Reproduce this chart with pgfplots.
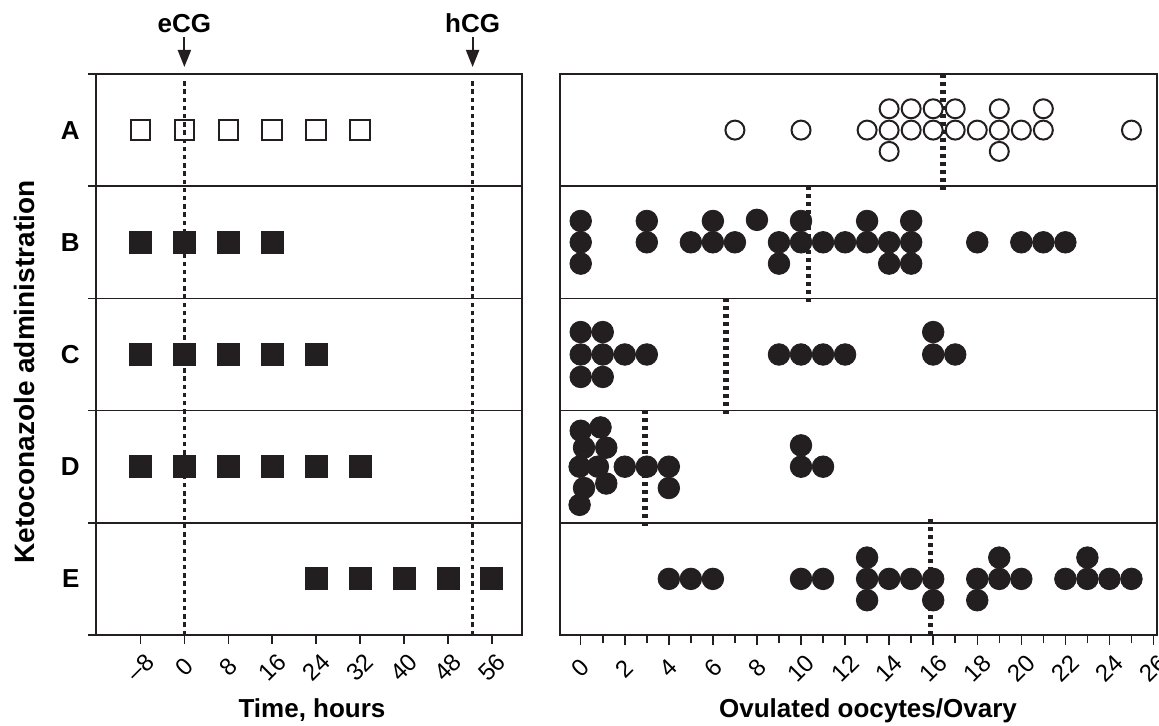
\documentclass[border=0pt]{standalone}
\usepackage{fontspec}
\setmainfont{Liberation Sans}
\usepackage{pgfplots}
\pgfplotsset{compat=1.18}
\usetikzlibrary{arrows.meta}
\definecolor{dotfill}{RGB}{35,31,32}
\newcommand{\lblfont}{\bfseries\fontsize{13}{15}\selectfont}
\newcommand{\tickfont}{\fontsize{12}{14}\selectfont}
\begin{document}
\begin{tikzpicture}[x=1pt,y=1pt]
\useasboundingbox (0,0) rectangle (579.5,363);
\pgfplotsset{
  panel/.style={
    anchor=south west, scale only axis, height=280.5pt,
    ymin=0.5, ymax=5.5, clip=false,
    axis line style={line width=0.9pt, draw=dotfill},
    tick align=outside, xtick pos=bottom, ytick pos=left,
    tick style={line width=0.75pt, draw=dotfill},
    /pgf/number format/assume math mode=true,
    xticklabel style={font=\tickfont, rotate=45, anchor=center},
    xticklabel shift=11.5pt,
  }
}
% ---------------- left panel ----------------
\begin{axis}[panel,
  at={(48pt,45.5pt)}, width=213pt,
  xmin=-16.1, xmax=61.5,
  xtick={-8,0,8,16,24,32,40,48,56},
  xticklabels={\textendash8,0,8,16,24,32,40,48,56},
  ytick={1,2,3,4,5}, yticklabels={E,D,C,B,A},
  yticklabel style={font=\lblfont},
  major y tick style={draw=none},
  minor ytick={0.5,1.5,2.5,3.5,4.5,5.5},
  yminorgrids, minor grid style={line width=0.75pt, draw=dotfill, solid},
  major tick length=4.7pt, minor tick length=3.8pt,
  xlabel={Time, hours},
  every axis x label/.style={at={(rel axis cs:0.5,0)}, anchor=base, yshift=-41.5pt, xshift=1.5pt, font=\lblfont},
  ylabel={Ketoconazole administration},
  every axis y label/.style={at={(rel axis cs:0,0.5)}, xshift=-36pt, yshift=-8.75pt, rotate=90, anchor=center, font=\bfseries\fontsize{14}{16}\selectfont},
]
% eCG / hCG lines
\addplot[dotfill, line width=1.6pt, dash pattern=on 2.2pt off 1.9pt] coordinates {(0,0.5) (0,5.45)};
\addplot[dotfill, line width=1.6pt, dash pattern=on 2.2pt off 1.9pt] coordinates {(52.5,0.5) (52.5,5.45)};
% A: open squares
\addplot[only marks, mark=square, mark size=4.9pt, mark options={line width=1pt, draw=dotfill, fill=none}]
  coordinates {(-8,5) (0,5) (8,5) (16,5) (24,5) (32,5)};
% B - E: filled squares
\addplot[only marks, mark=square*, mark size=5.5pt, mark options={draw=dotfill, fill=dotfill}]
  coordinates {(-8,4) (0,4) (8,4) (16,4)};
\addplot[only marks, mark=square*, mark size=5.5pt, mark options={draw=dotfill, fill=dotfill}]
  coordinates {(-8,3) (0,3) (8,3) (16,3) (24,3)};
\addplot[only marks, mark=square*, mark size=5.5pt, mark options={draw=dotfill, fill=dotfill}]
  coordinates {(-8,2) (0,2) (8,2) (16,2) (24,2) (32,2)};
\addplot[only marks, mark=square*, mark size=5.5pt, mark options={draw=dotfill, fill=dotfill}]
  coordinates {(24,1) (32,1) (40,1) (48,1) (56,1)};
% arrows
\draw[dotfill, line width=1pt, -{Triangle[width=6.5pt, length=8.5pt]}] ([yshift=18.5pt]axis cs:0,5.5) -- ([yshift=3.5pt]axis cs:0,5.5);
\draw[dotfill, line width=1pt, -{Triangle[width=6.5pt, length=8.5pt]}] ([yshift=18.5pt]axis cs:52.5,5.5) -- ([yshift=3.5pt]axis cs:52.5,5.5);
\node[font=\lblfont, anchor=base] at ([yshift=20.5pt]axis cs:0,5.5) {eCG};
\node[font=\lblfont, anchor=base] at ([yshift=20.5pt]axis cs:52.5,5.5) {hCG};
\end{axis}
% ---------------- right panel ----------------
\begin{axis}[panel,
  at={(280pt,45.5pt)}, width=298.5pt,
  xmin=-0.94, xmax=26.16,
  xtick={0,2,...,26},
  xticklabels={0,2,4,6,8,10,12,14,16,18,20,22,24,26},
  minor xtick={1,3,...,25},
  major tick length=5.2pt, minor tick length=4.2pt,
  ytick={1.5,2.5,3.5,4.5}, yticklabels={,,,},
  major y tick style={draw=none},
  ymajorgrids, major grid style={line width=0.75pt, draw=dotfill, solid},
  xlabel={Ovulated oocytes/Ovary},
  every axis x label/.style={at={(rel axis cs:0.5,0)}, anchor=base, yshift=-41.5pt, xshift=4.75pt, font=\lblfont},
]
% group mean lines
\addplot[dotfill, line width=2.75pt, dash pattern=on 2pt off 2pt] coordinates {(16.45,4.47) (16.45,5.5)};
\addplot[dotfill, line width=2.75pt, dash pattern=on 2pt off 2pt] coordinates {(10.35,3.47) (10.35,4.53)};
\addplot[dotfill, line width=2.75pt, dash pattern=on 2pt off 2pt] coordinates {(6.6,2.47) (6.6,3.53)};
\addplot[dotfill, line width=2.75pt, dash pattern=on 2pt off 2pt] coordinates {(2.92,1.47) (2.92,2.53)};
\addplot[dotfill, line width=2.75pt, dash pattern=on 2pt off 2pt] coordinates {(15.88,0.5) (15.88,1.53)};
% A: open circles
\addplot[only marks, mark=*, mark size=4.75pt, mark options={line width=1pt, draw=dotfill, fill=white}]
  coordinates {
  (7,5) (10,5) (13,5) (14,5) (15,5) (16,5) (17,5) (18,5) (19,5) (20,5) (21,5) (25,5)
  (14,5.19) (15,5.19) (16,5.19) (17,5.19) (19,5.19) (21,5.19)
  (14,4.81) (19,4.81)};
% B
\addplot[only marks, mark=*, mark size=5.4pt, mark options={draw=dotfill, fill=dotfill}]
  coordinates {
  (0,4) (3,4) (5,4) (6,4) (7,4) (9,4) (10,4) (11,4) (12,4) (13,4) (14,4) (15,4) (18,4) (20,4) (21,4) (22,4)
  (0,4.19) (3,4.19) (6,4.19) (8,4.2) (10,4.19) (13,4.19) (15,4.19)
  (0,3.81) (9,3.81) (14,3.81) (15,3.81)};
% C
\addplot[only marks, mark=*, mark size=5.4pt, mark options={draw=dotfill, fill=dotfill}]
  coordinates {
  (0,3) (1,3) (2,3) (3,3) (9,3) (10,3) (11,3) (12,3) (16,3) (17,3)
  (0,3.2) (1,3.2) (16,3.2)
  (0,2.8) (1,2.8)};
% D
\addplot[only marks, mark=*, mark size=5.4pt, mark options={draw=dotfill, fill=dotfill}]
  coordinates {
  (0.0,2.32) (0.9,2.35) (0.15,2.17) (1.16,2.17) (-0.05,2.0) (0.78,2.0)
  (0.15,1.81) (1.16,1.85) (-0.05,1.66)
  (2,2) (3,2) (4,2) (4,1.81) (10,2.19) (10,2) (11,2)};
% E
\addplot[only marks, mark=*, mark size=5.4pt, mark options={draw=dotfill, fill=dotfill}]
  coordinates {
  (4,1) (5,1) (6,1) (10,1) (11,1) (13,1) (14,1) (15,1) (16,1) (18,1) (19,1) (20,1) (22,1) (23,1) (24,1) (25,1)
  (13,1.19) (19,1.19) (23,1.19)
  (13,0.81) (16,0.81) (18,0.81)};
\end{axis}
\end{tikzpicture}
\end{document}
